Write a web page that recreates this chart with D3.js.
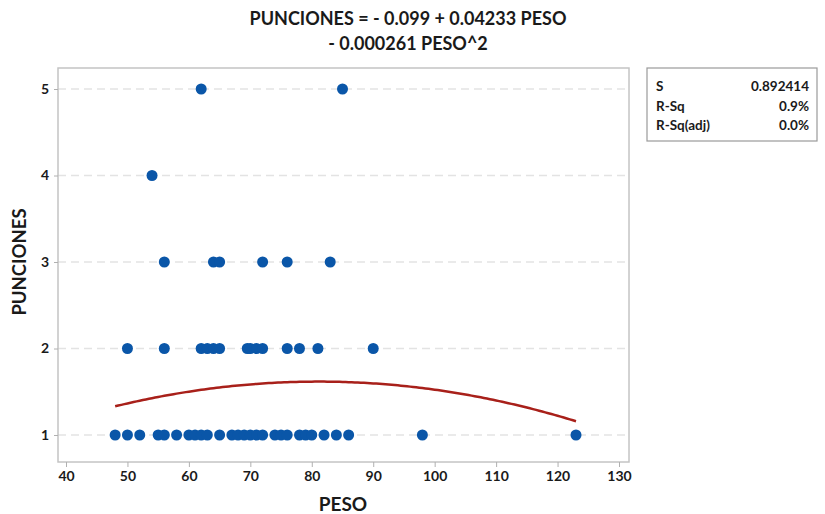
<!DOCTYPE html>
<html>
<head>
<meta charset="utf-8">
<style>
  body { margin: 0; background: #fff; }
  text { font-family: Lato, "Open Sans", sans-serif; font-weight: bold; fill: #1a1a1a; }
</style>
</head>
<body>
<div id="container"></div>
<script src="https://cdn.jsdelivr.net/npm/d3@7"></script>
<script>
// observed values, one array per PUNCIONES level
const peso1 = [48, 50, 52, 55, 56, 58, 60, 61, 62, 63, 65, 67, 68, 69, 70, 71, 72, 74, 75, 76, 78, 79, 80, 82, 84, 86, 98, 123];
const peso2 = [50, 56, 62, 63, 64, 65, 69.5, 70, 71, 72, 76, 78, 81, 90];
const peso3 = [56, 64, 65, 72, 76, 83];
const peso4 = [54];
const peso5 = [62, 85];
const levels = [1, 2, 3, 4, 5];
const groups = [peso1, peso2, peso3, peso4, peso5];

// fitted quadratic from the title
const coefs = [-0.099, 0.04233, -0.000261];
const fitRange = [48, 123];

const xTicks = [40, 50, 60, 70, 80, 90, 100, 110, 120, 130];
const yTicks = [1, 2, 3, 4, 5];
const statLabels = ["S", "R-Sq", "R-Sq(adj)"];
const statValues = ["0.892414", "0.9%", "0.0%"];

const points = [];
groups.forEach((g, i) => g.forEach(p => points.push({ x: p, y: levels[i] })));

const W = 825, H = 514;
const plot = { left: 58, right: 629, top: 68, bottom: 462 };

const svg = d3.select("#container").append("svg")
    .attr("width", W).attr("height", H);

const x = d3.scaleLinear().domain([40, 130]).range([66, 619]);
const y = d3.scaleLinear().domain([1, 5]).range([435, 89]);

// grid
svg.append("g").selectAll("line")
    .data(yTicks)
    .join("line")
    .attr("x1", plot.left).attr("x2", plot.right)
    .attr("y1", d => y(d)).attr("y2", d => y(d))
    .attr("stroke", "#e3e3e3")
    .attr("stroke-width", 1.5)
    .attr("stroke-dasharray", "8,5");

// frame
svg.append("rect")
    .attr("x", plot.left).attr("y", plot.top)
    .attr("width", plot.right - plot.left)
    .attr("height", plot.bottom - plot.top)
    .attr("fill", "none")
    .attr("stroke", "#c4c4c4")
    .attr("stroke-width", 1.5);

// axes
const xAxis = svg.append("g")
    .attr("transform", `translate(0,${plot.bottom})`)
    .call(d3.axisBottom(x).tickValues(xTicks).tickSize(5).tickPadding(4));
const yAxis = svg.append("g")
    .attr("transform", `translate(${plot.left},0)`)
    .call(d3.axisLeft(y).tickValues(yTicks).tickSize(4).tickPadding(5).tickFormat(d3.format("d")));
[xAxis, yAxis].forEach(a => {
    a.select(".domain").remove();
    a.selectAll(".tick line").attr("stroke", "#b0b0b0");
    a.selectAll(".tick text")
        .style("font-family", "Lato, sans-serif")
        .style("font-weight", "bold")
        .style("font-size", "14px")
        .attr("fill", "#222");
});

// fitted curve
const fit = d3.range(fitRange[0], fitRange[1] + 0.01, 0.5)
    .map(v => ({ x: v, y: coefs[0] + coefs[1] * v + coefs[2] * v * v }));
svg.append("path")
    .datum(fit)
    .attr("fill", "none")
    .attr("stroke", "#a8201a")
    .attr("stroke-width", 2.5)
    .attr("d", d3.line().x(d => x(d.x)).y(d => y(d.y)));

// points
svg.append("g").selectAll("circle")
    .data(points)
    .join("circle")
    .attr("cx", d => x(d.x))
    .attr("cy", d => y(d.y))
    .attr("r", 5.5)
    .attr("fill", "#0a56a8");

// titles
svg.append("text").attr("x", 408).attr("y", 25)
    .attr("text-anchor", "middle").style("font-size", "18px")
    .text("PUNCIONES = - 0.099 + 0.04233 PESO");
svg.append("text").attr("x", 408).attr("y", 50)
    .attr("text-anchor", "middle").style("font-size", "18px")
    .text("- 0.000261 PESO^2");
svg.append("text").attr("x", 343).attr("y", 511)
    .attr("text-anchor", "middle").style("font-size", "19px")
    .text("PESO");
svg.append("text")
    .attr("transform", "translate(26,262) rotate(-90)")
    .attr("text-anchor", "middle").style("font-size", "18.5px")
    .text("PUNCIONES");

// stats box
const box = svg.append("g");
box.append("rect")
    .attr("x", 647).attr("y", 68).attr("width", 170).attr("height", 73)
    .attr("fill", "#fff").attr("stroke", "#9a9a9a").attr("stroke-width", 1.2);
statLabels.forEach((s, i) => {
    box.append("text").attr("x", 656).attr("y", 91 + i * 19.5)
        .style("font-size", "13.5px").text(s);
    box.append("text").attr("x", 809).attr("y", 91 + i * 19.5)
        .attr("text-anchor", "end").style("font-size", "13.5px").text(statValues[i]);
});
</script>
</body>
</html>
